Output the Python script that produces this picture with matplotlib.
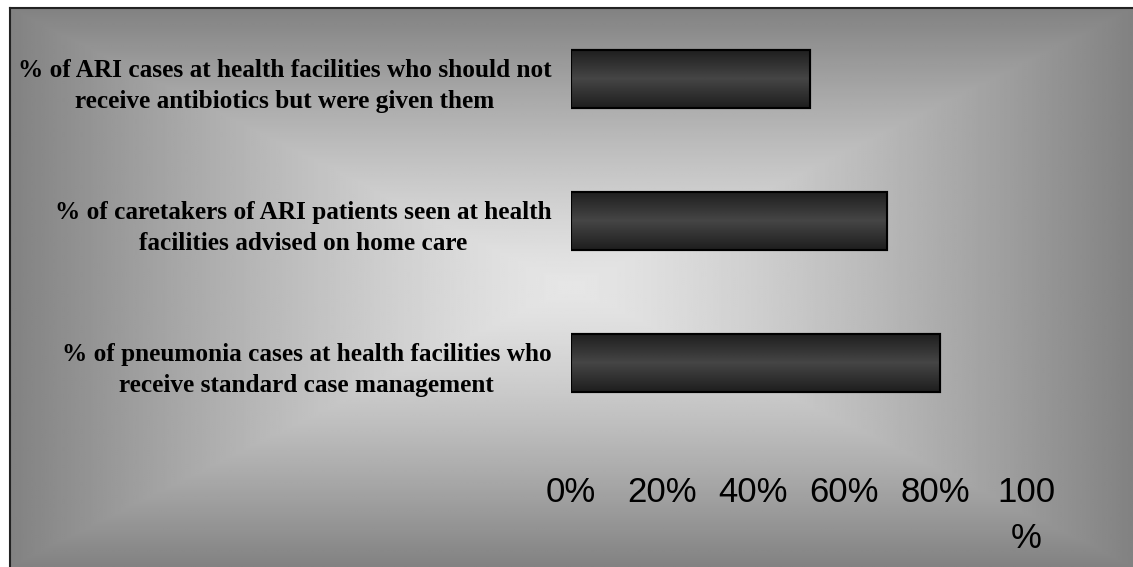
import numpy as np
import matplotlib
matplotlib.use("Agg")
import matplotlib.pyplot as plt

# data (top to bottom)
categories = [
    "% of ARI cases at health facilities who should not\nreceive antibiotics but were given them",
    "% of caretakers of ARI patients seen at health\nfacilities advised on home care",
    "% of pneumonia cases at health facilities who\nreceive standard case management",
]
values = [52.5, 69.5, 81]
x_ticks = [0, 20, 40, 60, 80, 100]
x_tick_labels = ["0%", "20%", "40%", "60%", "80%", "100\n%"]

W, H, DPI = 1133, 567, 100
fig = plt.figure(figsize=(W / DPI, H / DPI), dpi=DPI, facecolor="white")

# framed background with a rectangular "from centre" grey gradient
bg = fig.add_axes([10 / W, 0, (W - 10) / W, (H - 8) / H])
ny, nx = 280, 560
yy, xx = np.mgrid[-1:1:ny * 1j, -1:1:nx * 1j]
v = np.maximum(np.abs(xx), np.abs(yy))
shade = (230 - 100 * v ** 1.3) / 255.0
bg.imshow(shade, cmap="gray", vmin=0, vmax=1, aspect="auto",
          extent=[0, 1, 0, 1], interpolation="bilinear")
bg.set_xticks([])
bg.set_yticks([])
for side in ["right", "bottom"]:
    bg.spines[side].set_visible(False)
for side in ["left", "top"]:
    bg.spines[side].set_linewidth(1.5)
    bg.spines[side].set_color("#222222")

ax = fig.add_axes([571 / W, (H - 434) / H, 455 / W, 426 / H])
ax.patch.set_alpha(0)

ypos = np.arange(len(categories))
bars = ax.barh(ypos, values, height=0.41, color="#303030",
               edgecolor="black", linewidth=1.5, zorder=2)

# vertical shading inside each bar
grad = np.concatenate([np.linspace(0.12, 0.27, 40), np.linspace(0.27, 0.12, 40)])
for b in bars:
    x0, y0 = b.get_x(), b.get_y()
    im = ax.imshow(grad[:, None], cmap="gray", vmin=0, vmax=1, aspect="auto",
                   extent=[x0, x0 + b.get_width(), y0, y0 + b.get_height()],
                   interpolation="bilinear", zorder=2.5)
    im.set_clip_path(b)
    ax.add_patch(plt.Rectangle((x0, y0), b.get_width(), b.get_height(),
                               fill=False, edgecolor="black", linewidth=1.5, zorder=3))

ax.set_xlim(0, 100)
ax.set_ylim(len(categories) - 0.5, -0.5)
for s in ax.spines.values():
    s.set_visible(False)

ax.set_yticks(ypos)
ax.set_yticklabels(categories, family="Liberation Serif", fontweight="bold",
                   fontsize=18.2, linespacing=1.47)
for lab in ax.get_yticklabels():
    lab.set_multialignment("center")
ax.tick_params(axis="y", length=0, pad=14)

ax.set_xticks(x_ticks)
ax.set_xticklabels(x_tick_labels, family="Liberation Sans", fontsize=25,
                   linespacing=1.5)
ax.tick_params(axis="x", length=0, pad=30)

fig.savefig("out.png", dpi=DPI, facecolor="white")
